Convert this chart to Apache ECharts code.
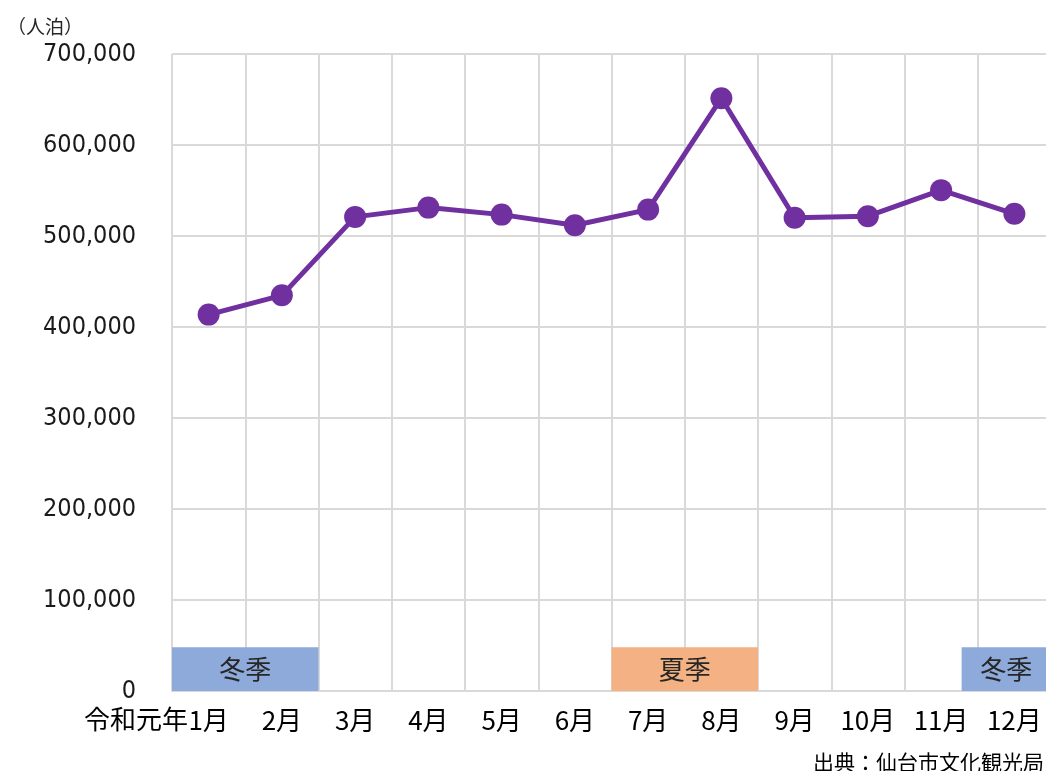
<!DOCTYPE html>
<html>
<head>
<meta charset="utf-8">
<script src="https://cdn.jsdelivr.net/npm/echarts@6/dist/echarts.min.js"></script>
<style>
  html, body { margin: 0; padding: 0; background: #fff; }
  #chart { width: 1046px; height: 771px; }
</style>
</head>
<body>
<div id="chart"></div>
<script>
// 宿泊者数（令和元年）
const months = ['1月', '2月', '3月', '4月', '5月', '6月', '7月', '8月', '9月', '10月', '11月', '12月']
const guests = [413600, 434800, 521000, 531200, 523500, 511800, 529000, 651400, 520000, 521800, 550400, 524400]

// 季節の帯（カテゴリ位置 0〜12）
const seasonNames = ['冬季', '夏季', '冬季']
const seasonStart = [0, 6, 10.78]
const seasonEnd = [2, 8, 12]
const seasonHeight = 48000

const seasonColors = { '冬季': '#8eaadb', '夏季': '#f4b183' }
const jpFont = '"Noto Sans CJK JP", "Noto Sans", sans-serif'

const chart = echarts.init(document.getElementById('chart'))

chart.setOption({
  animation: false,
  title: [
    {
      text: '（人泊）', left: 2, top: 12,
      textStyle: { fontFamily: jpFont, fontSize: 19, fontWeight: 'normal', color: '#262626' }
    },
    {
      text: '出典：仙台市文化観光局', right: -3, top: 747,
      textStyle: { fontFamily: jpFont, fontSize: 21, fontWeight: 'normal', color: '#000' }
    }
  ],
  graphic: [
    {
      type: 'text', right: 1046 - 188, top: 706,
      style: { text: '令和元年', font: '26px ' + jpFont, fill: '#000' }
    }
  ],
  // 右端は画像の外まで続いている
  grid: { left: 172, width: 879, top: 54, bottom: 80, outerBoundsMode: 'none' },
  xAxis: [
    {
      type: 'category', data: months, boundaryGap: true,
      axisLine: { lineStyle: { color: '#d9d9d9', width: 2 } },
      axisTick: { show: false },
      axisLabel: { interval: 0, margin: 16, color: '#000', fontSize: 26, fontFamily: jpFont },
      splitLine: { show: true, interval: 0, lineStyle: { color: '#d9d9d9', width: 2 } }
    },
    { type: 'value', min: 0, max: 12, show: false }
  ],
  yAxis: {
    type: 'value', min: 0, max: 700000, interval: 100000,
    axisLine: { show: false },
    axisTick: { show: false },
    axisLabel: {
      margin: 36, color: '#1a1a1a', fontSize: 25,
      fontFamily: '"DejaVu Sans Condensed", sans-serif',
      formatter: v => String(v).replace(/\B(?=(\d{3})+(?!\d))/g, ',')
    },
    splitLine: { lineStyle: { color: '#d9d9d9', width: 2 } }
  },
  series: [
    {
      type: 'custom', xAxisIndex: 1,
      data: seasonNames.map((n, i) => [seasonStart[i], seasonEnd[i], n]),
      renderItem: (params, api) => {
        const p0 = api.coord([api.value(0), 0])
        const p1 = api.coord([api.value(1), seasonHeight])
        const name = seasonNames[params.dataIndex]
        return {
          type: 'group',
          children: [
            {
              type: 'rect',
              shape: { x: p0[0], y: p1[1], width: p1[0] - p0[0], height: p0[1] - p1[1] },
              style: { fill: seasonColors[name] }
            },
            {
              type: 'text',
              style: {
                text: name, x: (p0[0] + p1[0]) / 2, y: (p0[1] + p1[1]) / 2,
                align: 'center', verticalAlign: 'middle',
                font: '26px ' + jpFont, fill: '#262626'
              }
            }
          ]
        }
      }
    },
    {
      type: 'line', data: guests,
      symbol: 'circle', symbolSize: 22,
      lineStyle: { color: '#7030a0', width: 5 },
      itemStyle: { color: '#7030a0' },
      z: 5
    }
  ]
})
</script>
</body>
</html>
